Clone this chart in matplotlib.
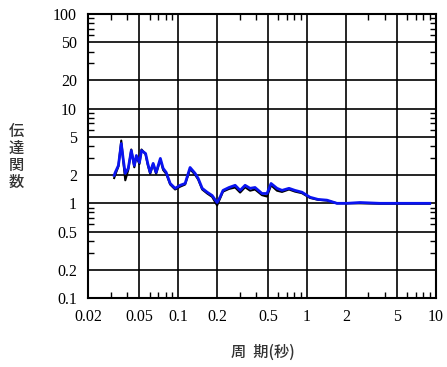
import numpy as np
import matplotlib.pyplot as plt
from matplotlib.ticker import FixedLocator, NullFormatter, LogLocator

# period [s] and transfer function values
period = [0.0319, 0.0325, 0.0344, 0.0362, 0.0376, 0.0389, 0.0410, 0.0433,
          0.0457, 0.0474, 0.0501, 0.0520, 0.0559, 0.0581, 0.0607, 0.0640,
          0.0675, 0.0728, 0.0765, 0.0808, 0.0868, 0.0948, 0.1037, 0.1133,
          0.1238, 0.1355, 0.1432, 0.1538, 0.1681, 0.1837, 0.2006, 0.2114,
          0.2231, 0.2484, 0.2771, 0.3028, 0.3310, 0.3618, 0.3953, 0.4475,
          0.4899, 0.5262, 0.5855, 0.6403, 0.7253, 0.8070, 0.9146, 1.055,
          1.217, 1.429, 1.708, 2.042, 2.576, 3.677, 5.255, 6.872, 8.98]
blue = [1.97, 2.12, 2.51, 4.28, 2.84, 2.07, 2.34, 3.61,
        2.51, 3.20, 2.70, 3.61, 3.36, 2.64, 2.12, 2.64,
        2.12, 2.98, 2.34, 2.12, 1.62, 1.44, 1.55, 1.62,
        2.39, 2.07, 1.83, 1.44, 1.31, 1.21, 1.02, 1.16,
        1.37, 1.47, 1.55, 1.37, 1.55, 1.44, 1.47, 1.27,
        1.27, 1.62, 1.44, 1.37, 1.44, 1.37, 1.31, 1.16,
        1.10, 1.08, 1.0, 1.0, 1.02, 1.0, 1.0, 1.0, 1.0]
black = [1.85, 2.0, 2.45, 4.6, 2.7, 1.75, 2.25, 3.7,
         2.4, 3.1, 2.6, 3.7, 3.3, 2.55, 2.05, 2.6,
         2.05, 2.9, 2.25, 2.05, 1.58, 1.40, 1.50, 1.58,
         2.3, 2.0, 1.78, 1.40, 1.27, 1.17, 0.95, 1.12,
         1.33, 1.42, 1.47, 1.30, 1.48, 1.36, 1.40, 1.22,
         1.18, 1.55, 1.36, 1.32, 1.40, 1.33, 1.28, 1.14,
         1.09, 1.07, 1.0, 1.0, 1.0, 0.99, 0.99, 0.99, 0.99]

xmajor = [0.02, 0.05, 0.1, 0.2, 0.5, 1, 2, 5, 10]
xlabels = ['0.02', '0.05', '0.1', '0.2', '0.5', '1', '2', '5', '10']
ymajor = [0.1, 0.2, 0.5, 1, 2, 5, 10, 20, 50, 100]
ylabels = ['0.1', '0.2', '0.5', '1', '2', '5', '10', '20', '50', '100']

plt.rcParams['font.family'] = ['Liberation Serif', 'DejaVu Serif']

fig = plt.figure(figsize=(4.47, 3.67), dpi=100)
ax = fig.add_axes([0.197, 0.188, 0.778, 0.774])

ax.plot(period, black, color='black', lw=1.5)
ax.plot(period, blue, color='#0a14f0', lw=2.0)

ax.set_xscale('log')
ax.set_yscale('log')
ax.set_xlim(0.02, 10)
ax.set_ylim(0.1, 100)

ax.xaxis.set_major_locator(FixedLocator(xmajor))
ax.set_xticklabels(xlabels)
ax.yaxis.set_major_locator(FixedLocator(ymajor))
ax.set_yticklabels(ylabels)
ax.xaxis.set_minor_locator(LogLocator(base=10, subs=[3, 4, 6, 7, 8, 9]))
ax.yaxis.set_minor_locator(LogLocator(base=10, subs=[3, 4, 6, 7, 8, 9]))
ax.xaxis.set_minor_formatter(NullFormatter())
ax.yaxis.set_minor_formatter(NullFormatter())

ax.grid(True, which='major', color='black', lw=1.2)
ax.tick_params(which='major', length=0, labelsize=11.5, pad=8)
ax.tick_params(which='minor', direction='in', length=4, width=1,
               top=True, right=True)
for s in ax.spines.values():
    s.set_linewidth(1.5)

jp = ['Noto Sans CJK JP', 'DejaVu Sans']
fig.text(0.587, 0.04, '周  期(秒)', family=jp, fontsize=11,
         fontweight='medium', ha='center', va='center', color='#333333')
fig.text(0.036, 0.572, '伝\n達\n関\n数', family=jp, fontsize=11,
         fontweight='medium', ha='center', va='center', linespacing=1.0,
         color='#333333')

fig.savefig('out.png', dpi=100)
